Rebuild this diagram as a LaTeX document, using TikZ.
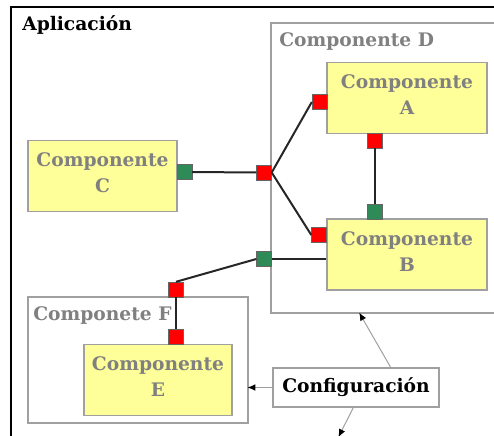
\documentclass[tikz,border=0pt]{standalone}
\usepackage{fontspec}
\setmainfont{DejaVu Serif}
\usetikzlibrary{arrows.meta}
\definecolor{compyellow}{HTML}{FFFF99}
\definecolor{portgreen}{HTML}{2E8B57}
\definecolor{textgray}{HTML}{808080}
\definecolor{framegray}{HTML}{A0A0A0}

\begin{document}
\begin{tikzpicture}[x=0.75pt,y=-0.75pt]
		\useasboundingbox (0,0) rectangle (494,436);
		\tikzstyle{comp}=[draw=framegray,line width=1.1pt,fill=compyellow,minimum height=53pt,align=center,text=textgray,font=\bfseries\fontsize{14}{19.5}\selectfont,execute at end node={\rule[-5pt]{0pt}{5pt}}]
		\tikzstyle{frame}=[draw=framegray,line width=1.1pt,inner sep=0pt]
		\tikzstyle{title}=[inner sep=0pt,anchor=base west,font=\bfseries\fontsize{14}{17}\selectfont]
		\tikzstyle{port}=[draw=black!60,line width=0.3pt,minimum size=11.25pt,inner sep=0pt]
		\tikzstyle{wire}=[draw=black!85,line width=1.5pt]
		\tikzstyle{cfgarrow}=[draw=framegray,line width=0.75pt,-{Latex[length=6pt,width=5pt,black]},shorten >=-1pt]
		% application frame
		\draw[line width=1.6pt] (11,440) |- (500,7);
		\node[title] (t_app) at (22,30) {Aplicación};
		% containers
		\node[frame,minimum width=179.25pt,minimum height=217.5pt] (f_D) at (390.5,168) {};
		\node[title,text=textgray] (t_D) at (279,46) {Componente D};
		\node[frame,minimum width=165pt,minimum height=94.5pt] (f_F) at (138,360) {};
		\node[title,text=textgray] (t_F) at (33,320) {Componete F};
		% components
		\node[comp,minimum width=111.75pt] (c_C) at (102.5,176) {Componente\\C};
		\node[comp,minimum width=120pt] (c_A) at (407,98) {Componente\\A};
		\node[comp,minimum width=120pt] (c_B) at (407,254.5) {Componente\\B};
		\node[comp,minimum width=111pt] (c_E) at (158,380) {Componente\\E};
		% ports
		\node[port,fill=portgreen] (p_C) at (184.5,172) {};
		\node[port,fill=red] (p_1) at (264,172.5) {};
		\node[port,fill=red] (p_A1) at (319.5,102) {};
		\node[port,fill=red] (p_A2) at (375,140.5) {};
		\node[port,fill=portgreen] (p_B1) at (375,211.5) {};
		\node[port,fill=red] (p_B2) at (319,235) {};
		\node[port,fill=portgreen] (p_2) at (264,259) {};
		\node[port,fill=red] (p_F) at (176,289.5) {};
		\node[port,fill=red] (p_E) at (176,337) {};
		% wires
		\draw[wire] (p_C) -- (p_1);
		\draw[wire] (p_1.east) -- (p_A1.west);
		\draw[wire] (p_1.east) -- (p_B2.west);
		\draw[wire] (p_A2) -- (p_B1);
		\draw[wire] (p_2.east) -- (p_2.east -| c_B.west);
		\draw[wire] (p_2.west) -- (p_F.north);
		\draw[wire] (p_F) -- (p_E);
		% configuration
		\node[draw=framegray,line width=0.9pt,fill=white,minimum width=124.5pt,minimum height=29.25pt,inner sep=0pt,font=\bfseries\fontsize{14}{17}\selectfont] (cfg) at (356,387.5) {Configuración};
		\coordinate (app_bottom) at (339,436);
		\draw[cfgarrow] ([xshift=26pt]cfg.north) -- ([xshift=-23pt]f_D.south);
		\draw[cfgarrow] (cfg.west) -- (cfg.west -| f_F.east);
		\draw[cfgarrow] ([xshift=-2pt]cfg.south) -- (app_bottom);
\end{tikzpicture}
\end{document}
